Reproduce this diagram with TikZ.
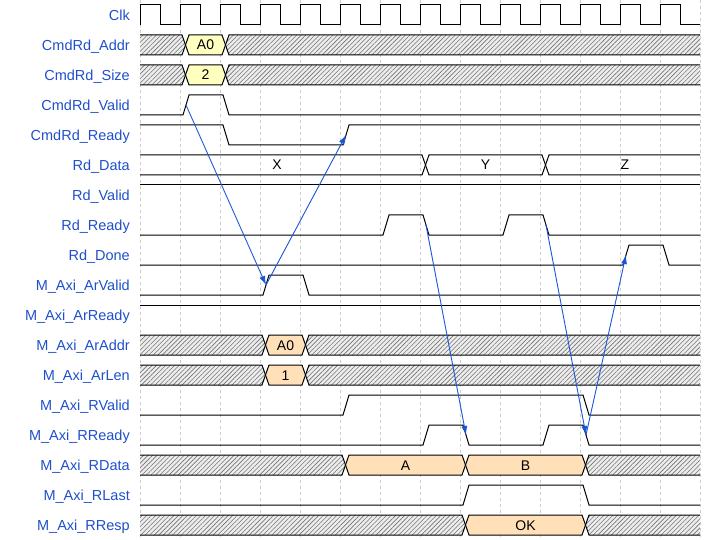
\documentclass[tikz,border=0pt]{standalone}
\usepackage{fontspec}
\setmainfont{Liberation Sans}
\usetikzlibrary{arrows.meta, patterns.meta}
\definecolor{sigblue}{HTML}{1F4FCC}
\definecolor{arrowblue}{HTML}{1A55D8}
\definecolor{cellyellow}{HTML}{FFFFC0}
\definecolor{cellpeach}{HTML}{FFE0B8}
\tikzset{
	siglabel/.style={
			anchor=east,
			text=sigblue,
			font=\fontsize{14.5}{16}\selectfont,
			text height=10.4pt,
			text depth=0pt,
			inner sep=0pt
		},
	celltext/.style={
			text=black,
			font=\fontsize{14}{16}\selectfont,
			text height=10pt,
			text depth=0pt,
			inner sep=0pt
		},
	wave/.style={
			draw=black,
			line width=1pt
		},
	gridline/.style={
			draw=black!20,
			dash pattern=on 3pt off 3pt,
			line width=0.7pt
		},
	hatchcell/.style={
			wave,
			preaction={fill=black!7},
			pattern={Lines[angle=45, distance=3.2pt, line width=0.6pt]},
			pattern color=black!55
		},
	yellowcell/.style={
			wave,
			fill=cellyellow
		},
	peachcell/.style={
			wave,
			fill=cellpeach
		},
	plaincell/.style={
			wave
		},
	handshake/.style={
			draw=arrowblue,
			line width=0.9pt,
			-{Latex[length=9pt, width=6pt]}
		}
}
% hexagon-shaped bus value: left tip, right tip, row centre, style
\newcommand{\buscell}[4]{%
	\draw[#4] (#1,#3) -- ({#1+3.5},{#3-10}) -- ({#2-3.5},{#3-10}) -- (#2,#3)
	-- ({#2-3.5},{#3+10}) -- ({#1+3.5},{#3+10}) -- cycle;}

\begin{document}
\begin{tikzpicture}[x=1pt, y=-1pt]
	\useasboundingbox (0,0) rectangle (720,540);

	\foreach \gx in {140,180,...,700}
	\draw[gridline] (\gx,0) -- (\gx,540);

	% signal names
	\foreach \nm [count=\i from 0] in {Clk, CmdRd\_Addr, CmdRd\_Size, CmdRd\_Valid,
			CmdRd\_Ready, Rd\_Data, Rd\_Valid, Rd\_Ready, Rd\_Done, M\_Axi\_ArValid,
			M\_Axi\_ArReady, M\_Axi\_ArAddr, M\_Axi\_ArLen, M\_Axi\_RValid,
			M\_Axi\_RReady, M\_Axi\_RData, M\_Axi\_RLast, M\_Axi\_RResp}
	\node[siglabel] (lab\i) at (130,{15+30*\i}) {\nm};

	% clock
	\draw[wave] (140,25) \foreach \t in {140,180,...,660} {
			-- (\t,5) -- ({\t+20},5) -- ({\t+20},25) -- ({\t+40},25)};

	% buses
	\begin{scope}
		\clip (140,0) rectangle (700,540);
		\buscell{120}{185.5}{45}{hatchcell}
		\buscell{185.5}{225.5}{45}{yellowcell}
		\buscell{225.5}{720}{45}{hatchcell}

		\buscell{120}{185.5}{75}{hatchcell}
		\buscell{185.5}{225.5}{75}{yellowcell}
		\buscell{225.5}{720}{75}{hatchcell}

		\buscell{120}{425.5}{165}{plaincell}
		\buscell{425.5}{545.5}{165}{plaincell}
		\buscell{545.5}{720}{165}{plaincell}

		\buscell{120}{265.5}{345}{hatchcell}
		\buscell{265.5}{305.5}{345}{peachcell}
		\buscell{305.5}{720}{345}{hatchcell}

		\buscell{120}{265.5}{375}{hatchcell}
		\buscell{265.5}{305.5}{375}{peachcell}
		\buscell{305.5}{720}{375}{hatchcell}

		\buscell{120}{345.5}{465}{hatchcell}
		\buscell{345.5}{465.5}{465}{peachcell}
		\buscell{465.5}{585.5}{465}{peachcell}
		\buscell{585.5}{720}{465}{hatchcell}

		\buscell{120}{465.5}{525}{hatchcell}
		\buscell{465.5}{585.5}{525}{peachcell}
		\buscell{585.5}{720}{525}{hatchcell}
	\end{scope}

	\node[celltext] (cmdAddr) at (205.5,45) {A0};
	\node[celltext] (cmdSize) at (205.5,75) {2};
	\node[celltext] (dataX) at (277,165) {X};
	\node[celltext] (dataY) at (485.5,165) {Y};
	\node[celltext] (dataZ) at (625,165) {Z};
	\node[celltext] (arAddr) at (285.5,345) {A0};
	\node[celltext] (arLen) at (285.5,375) {1};
	\node[celltext] (rDataA) at (405.5,465) {A};
	\node[celltext] (rDataB) at (525.5,465) {B};
	\node[celltext] (rResp) at (525.5,525) {OK};

	% single-bit signals
	\draw[wave] (140,115) -- (183,115) -- (189,95) -- (223,95) -- (229,115) -- (700,115);
	\draw[wave] (140,125) -- (223,125) -- (229,145) -- (343,145) -- (349,125) -- (700,125);
	\draw[wave] (140,185) -- (700,185);
	\draw[wave] (140,235) -- (383,235) -- (389,215) -- (423,215) -- (429,235)
		-- (503,235) -- (509,215) -- (543,215) -- (549,235) -- (700,235);
	\draw[wave] (140,265) -- (623,265) -- (629,245) -- (663,245) -- (669,265) -- (700,265);
	\draw[wave] (140,295) -- (263,295) -- (269,275) -- (303,275) -- (309,295) -- (700,295);
	\draw[wave] (140,305) -- (700,305);
	\draw[wave] (140,415) -- (343,415) -- (349,395) -- (583,395) -- (589,415) -- (700,415);
	\draw[wave] (140,445) -- (423,445) -- (429,425) -- (463,425) -- (469,445)
		-- (543,445) -- (549,425) -- (583,425) -- (589,445) -- (700,445);
	\draw[wave] (140,505) -- (463,505) -- (469,485) -- (583,485) -- (589,505) -- (700,505);

	% edges that the arrows join
	\coordinate (cmdValidUp) at (186,105);
	\coordinate (arValidUp) at (266,285);
	\coordinate (cmdReadyUp) at (346,135);
	\coordinate (rdReadyDn1) at (426,225);
	\coordinate (rReadyDn1) at (466,435);
	\coordinate (rdReadyDn2) at (546,225);
	\coordinate (rReadyDn2) at (586,435);
	\coordinate (rdDoneUp) at (626,255);

	\draw[handshake] (cmdValidUp) -- (arValidUp);
	\draw[handshake] (arValidUp) -- (cmdReadyUp);
	\draw[handshake] (rdReadyDn1) -- (rReadyDn1);
	\draw[handshake] (rdReadyDn2) -- (rReadyDn2);
	\draw[handshake] (rReadyDn2) -- (rdDoneUp);
\end{tikzpicture}
\end{document}
